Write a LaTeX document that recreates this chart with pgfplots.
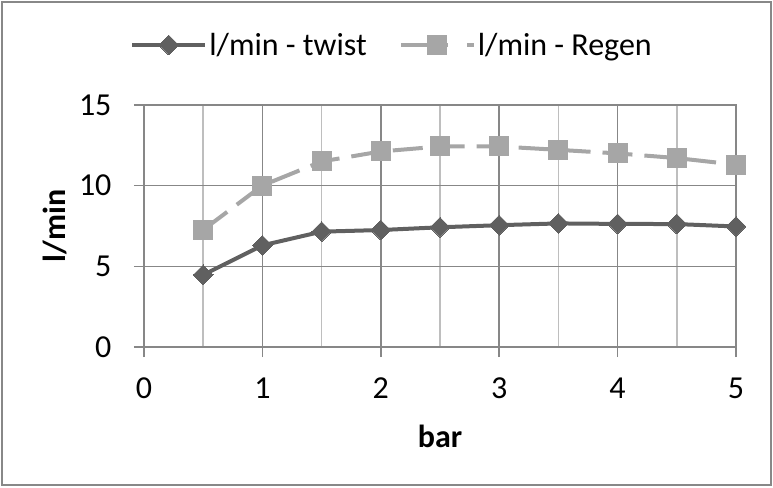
\documentclass[border=0pt]{standalone}
\usepackage{fontspec}
\setmainfont{Carlito}
\usepackage{pgfplots}
\pgfplotsset{compat=1.18}
\definecolor{twistc}{HTML}{606060}
\definecolor{regenc}{HTML}{A6A6A6}
\definecolor{gridmaj}{HTML}{878787}
\definecolor{gridmin}{HTML}{BEBEBE}
\definecolor{framec}{HTML}{888888}
\newcommand{\bigfont}{\fontsize{32}{38}\selectfont}
\begin{document}
\begin{tikzpicture}
\useasboundingbox (-144pt,-140pt) rectangle (629pt,347pt);
\draw[draw=framec, line width=1.5pt] (-142pt,-138pt) rectangle (627pt,345pt);
\begin{axis}[
  scale only axis, width=592pt, height=242pt,
  xmin=0, xmax=5, ymin=0, ymax=15,
  xtick={0,1,2,3,4,5}, minor xtick={0.5,1.5,2.5,3.5,4.5},
  ytick={0,5,10,15},
  grid=both,
  major grid style={draw=gridmaj, line width=1.5pt},
  minor grid style={draw=gridmin, line width=1.5pt},
  axis line style={draw=gridmaj, line width=1.5pt},
  tick align=outside, tick pos=left,
  major tick length=10pt, minor tick length=0pt,
  major tick style={draw=gridmaj, line width=1.5pt},
  /pgf/number format/assume math mode=true,
  tick label style={font=\bigfont},
  xticklabel style={yshift=-17pt},
  yticklabel style={xshift=-19pt},
  xlabel={\textbf{bar}}, ylabel={\textbf{l/min}},
  every axis x label/.style={at={(axis description cs:0.5,-0.368)}, anchor=center, font=\bigfont},
  every axis y label/.style={at={(axis description cs:-0.150,0.5)}, anchor=center, rotate=90, font=\bigfont},
  legend columns=2,
  legend style={draw=none, fill=none, font=\bigfont, at={(axis description cs:0.419,1.248)}, anchor=center,
    /tikz/every even column/.append style={column sep=30pt}},
  legend image code/.code={\draw[mark repeat=2, mark phase=2, #1] plot coordinates {(0pt,0pt) (36.5pt,0pt) (73pt,0pt)};},
]
\addplot[color=twistc, line width=4pt, mark=square*, mark size=7pt, mark options={solid, rotate=45, line width=0pt, fill=twistc}]
 coordinates {(0.5,4.47) (1,6.3) (1.5,7.15) (2,7.25) (2.5,7.42) (3,7.55) (3.5,7.66) (4,7.63) (4.5,7.62) (5,7.47)};
\addlegendentry{l/min - twist}
\addplot[color=regenc, line width=4pt, dash pattern=on 30pt off 12pt, mark=square*, mark size=9.5pt, mark options={solid, line width=0pt, fill=regenc},
  legend image post style={dash pattern=on 47pt off 19pt}]
 coordinates {(0.5,7.26) (1,10.01) (1.5,11.5) (2,12.12) (2.5,12.43) (3,12.43) (3.5,12.22) (4,12.0) (4.5,11.71) (5,11.3)};
\addlegendentry{l/min - Regen}
\end{axis}
\end{tikzpicture}
\end{document}
